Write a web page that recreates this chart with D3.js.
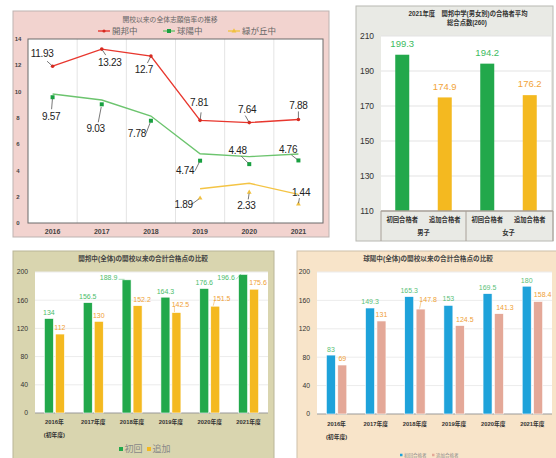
<!DOCTYPE html>
<html><head><meta charset="utf-8">
<script src="https://cdn.jsdelivr.net/npm/d3@7"></script>
<style>body{margin:0;background:#fff}svg{display:block}text{font-family:"Liberation Sans","Noto Sans CJK JP",sans-serif}</style>
</head><body>
<script>
// ---------- DATA ----------
const years = ["2016","2017","2018","2019","2020","2021"];
const kaihoRate = [11.93,13.23,12.7,7.81,7.64,7.88];
const kyuyoRate = [9.57,9.03,7.78,4.74,4.48,4.76];
const kyuyoLine = [9.82,9.36,8.14,5.27,5.05,5.25];
const midoriRate = [null,null,null,1.89,2.33,1.44];
const midoriLine = [null,null,null,2.61,3.02,2.18];
const rateTicks = [0,2,4,6,8,10,12,14];
const rateSeries = ["開邦中","球陽中","緑が丘中"];

const genderCats = ["初回合格者","追加合格者","初回合格者","追加合格者"];
const genderGroups = ["男子","女子"];
const genderScores = [199.3,174.9,194.2,176.2];
const genderTicks = [110,130,150,170,190,210];

const fiscalYears = ["2016年","2017年度","2018年度","2019年度","2020年度","2021年度"];
const kaihoFirst = [134,156.5,188.9,164.3,176.6,196.6];
const kaihoExtra = [112,130,152.2,142.5,151.5,175.6];
const kyuyoFirst = [83,149.3,165.3,153,169.5,180];
const kyuyoExtra = [69,131,147.8,124.5,141.3,158.4];
const scoreTicks = [0,40,80,120,160,200];

// ---------- LAYOUT (label offsets) ----------
const redLab = [[-10.5,-13,-5.5,-5],[8,13,4,6],[-7,13,-3.5,7],[-1,-18,1,-8],[-2,-13.5,-4,-7],[0,-14,0,-8]];
const greenLab = [[-1.5,19,-1,12],[-6,24.4,-3.5,18],[-14,13,-5,13],[-15,10,-5,10],[-11.7,-13.4,-8,-8],[-10.4,-10.7,-7,-5.5]];
const yellowLab = [null,null,null,[-16.4,6.5,-9,6.5],[-2.8,13,-1,7],[2.6,-11.4,1,-6]];

const svg = d3.select("body").append("svg").attr("width",556).attr("height",458);
svg.append("rect").attr("width",556).attr("height",458).attr("fill","#fff");

// ================= PANEL 1 =================
{
  const g = svg.append("g");
  g.append("rect").attr("x",13).attr("y",11).attr("width",316).attr("height",226)
    .attr("fill","#f2d3cf").attr("stroke","#bdb3b1");
  const x = d3.scaleBand().domain(years).range([28,323]);
  const y = d3.scaleLinear().domain([0,14]).range([223,39]);
  g.append("rect").attr("x",28).attr("y",39).attr("width",295).attr("height",184)
    .attr("fill","#fff");
  g.selectAll(".vg").data(years.slice(1)).enter().append("line")
    .attr("x1",d=>x(d)).attr("x2",d=>x(d)).attr("y1",39).attr("y2",223)
    .attr("stroke","#e4e4e4");
  g.append("rect").attr("x",28).attr("y",39).attr("width",295).attr("height",184)
    .attr("fill","none").attr("stroke","#6a6a6a").attr("stroke-width",1);
  g.selectAll(".yt").data(rateTicks).enter().append("text")
    .attr("x",18).attr("y",d=>y(d)).attr("dy","0.35em").attr("text-anchor","middle")
    .attr("font-size",6).attr("font-weight","bold").attr("fill","#444").text(d=>d);
  g.selectAll(".xt").data(years).enter().append("text")
    .attr("x",d=>x(d)+x.bandwidth()/2).attr("y",232).attr("dy","0.35em").attr("text-anchor","middle")
    .attr("font-size",7).attr("font-weight","bold").attr("fill","#444").text(d=>d);
  g.append("text").attr("x",170).attr("y",20).attr("dy","0.35em").attr("text-anchor","middle")
    .attr("font-size",6.8).attr("fill","#666").text("開校以来の全体志願倍率の推移");
  const cx = i => x(years[i])+x.bandwidth()/2;
  const line = d3.line().defined(d=>d!=null).x((d,i)=>cx(i)).y(d=>y(d));
  const cols = {red:"#e8372e", green:"#6cc46e", yellow:"#f4c444"};
  g.append("path").attr("d",line(kaihoRate)).attr("fill","none").attr("stroke",cols.red).attr("stroke-width",1.4);
  g.append("path").attr("d",line(kyuyoLine)).attr("fill","none").attr("stroke",cols.green).attr("stroke-width",1.4);
  g.append("path").attr("d",line(midoriLine)).attr("fill","none").attr("stroke",cols.yellow).attr("stroke-width",1.4);
  // markers
  kaihoRate.forEach((v,i)=>g.append("circle").attr("cx",cx(i)).attr("cy",y(v)).attr("r",1.8).attr("fill","#d62a20"));
  kyuyoRate.forEach((v,i)=>g.append("rect").attr("x",cx(i)-2).attr("y",y(v)-2).attr("width",4).attr("height",4).attr("fill","#18a040"));
  midoriRate.forEach((v,i)=>{ if(v==null) return;
    g.append("path").attr("d",d3.symbol(d3.symbolTriangle,10)()).attr("transform",`translate(${cx(i)},${y(v)})`).attr("fill","#f0c040");});
  // labels
  function labels(vals, offs){
    vals.forEach((v,i)=>{ if(v==null||!offs[i]) return;
      const [dx,dy,lx,ly]=offs[i]; const px=cx(i), py=y(v);
      g.append("line").attr("x1",px+lx*0.15).attr("y1",py+ly*0.15).attr("x2",px+lx).attr("y2",py+ly)
        .attr("stroke","#555").attr("stroke-width",0.8);
      g.append("text").attr("x",px+dx).attr("y",py+dy).attr("dy","0.35em").attr("text-anchor","middle")
        .attr("font-size",10).attr("fill","#222").attr("letter-spacing",-0.3).text(v);
    });
  }
  labels(kaihoRate, redLab); labels(kyuyoRate, greenLab); labels(midoriRate, yellowLab);
  // legend
  const leg = [[98,cols.red,"c"],[163,cols.green,"s"],[228,cols.yellow,"t"]];
  leg.forEach((l,i)=>{
    g.append("line").attr("x1",l[0]).attr("x2",l[0]+12).attr("y1",31).attr("y2",31).attr("stroke",l[1]).attr("stroke-width",1.4);
    if(l[2]=="c") g.append("circle").attr("cx",l[0]+6).attr("cy",31).attr("r",1.6).attr("fill","#d62a20");
    if(l[2]=="s") g.append("rect").attr("x",l[0]+4).attr("y",29).attr("width",4).attr("height",4).attr("fill","#18a040");
    if(l[2]=="t") g.append("path").attr("d",d3.symbol(d3.symbolTriangle,10)()).attr("transform",`translate(${l[0]+6},31)`).attr("fill","#f0c040");
    g.append("text").attr("x",l[0]+14).attr("y",31).attr("dy","0.35em").attr("font-size",8.5).attr("fill","#666").text(rateSeries[i]);
  });
}

// ================= PANEL 2 =================
{
  const g = svg.append("g");
  g.append("rect").attr("x",356).attr("y",6).attr("width",197).attr("height",235)
    .attr("fill","#e9eae5").attr("stroke","#b8b8b2");
  const x = d3.scaleBand().domain(d3.range(4)).range([381,551]);
  const y = d3.scaleLinear().domain([110,210]).range([211,36]);
  g.append("rect").attr("x",381).attr("y",36).attr("width",170).attr("height",175).attr("fill","#fff");
  g.selectAll(".gl").data(genderTicks).enter().append("line")
    .attr("x1",381).attr("x2",551).attr("y1",d=>y(d)).attr("y2",d=>y(d)).attr("stroke","#e3e3e3");
  g.selectAll(".yt").data(genderTicks).enter().append("text")
    .attr("x",367).attr("y",d=>y(d)).attr("dy","0.35em").attr("text-anchor","middle")
    .attr("font-size",8.5).attr("fill","#333").text(d=>d);
  g.append("text").attr("x",468).attr("y",14).attr("dy","0.35em").attr("text-anchor","middle")
    .attr("font-size",6.3).attr("font-weight","bold").attr("fill","#333").text("2021年度　開邦中学(男女別)の合格者平均");
  g.append("text").attr("x",467).attr("y",23).attr("dy","0.35em").attr("text-anchor","middle")
    .attr("font-size",6.3).attr("font-weight","bold").attr("fill","#333").text("総合点数(260)");
  const barC = ["#22a84b","#f4b920"], labC = ["#3dbb5e","#f2a43a"];
  genderScores.forEach((v,i)=>{
    const c = x(i)+x.bandwidth()/2;
    g.append("rect").attr("x",c-7).attr("y",y(v)).attr("width",14).attr("height",y(110)-y(v)).attr("fill",barC[i%2]);
    g.append("text").attr("x",c).attr("y",y(v)-11).attr("dy","0.35em").attr("text-anchor","middle")
      .attr("font-size",9.5).attr("fill",labC[i%2]).text(v);
    g.append("text").attr("x",c).attr("y",219.5).attr("dy","0.35em").attr("text-anchor","middle")
      .attr("font-size",6.3).attr("font-weight","bold").attr("fill","#333").text(genderCats[i]);
  });
  genderGroups.forEach((t,j)=>{
    const c = (x(j*2)+x(j*2+1)+x.bandwidth())/2;
    g.append("text").attr("x",c).attr("y",233).attr("dy","0.35em").attr("text-anchor","middle")
      .attr("font-size",6.3).attr("font-weight","bold").attr("fill","#333").text(t);
  });
  g.append("line").attr("x1",381).attr("x2",553).attr("y1",211).attr("y2",211).attr("stroke","#a8a098").attr("stroke-width",1.3);
  [381,466,553].forEach(xx=>g.append("line").attr("x1",xx).attr("x2",xx).attr("y1",211).attr("y2",241).attr("stroke","#a8a098"));
}

// ================= PANELS 3 & 4 =================
function scorePanel(o){
  const g = svg.append("g");
  g.append("rect").attr("x",o.bx).attr("y",251).attr("width",o.bw).attr("height",220)
    .attr("fill",o.bg).attr("stroke",o.border);
  const x = d3.scaleBand().domain(fiscalYears).range([o.px0,o.px1]);
  const y = d3.scaleLinear().domain([0,200]).range([o.py1,272]);
  g.append("rect").attr("x",o.px0).attr("y",272).attr("width",o.px1-o.px0).attr("height",o.py1-272).attr("fill","#fff");
  g.selectAll(".gl").data(scoreTicks.slice(1)).enter().append("line")
    .attr("x1",o.px0).attr("x2",o.px1).attr("y1",d=>y(d)).attr("y2",d=>y(d)).attr("stroke","#ececec");
  g.append("line").attr("x1",o.px0).attr("x2",o.px1).attr("y1",o.py1).attr("y2",o.py1).attr("stroke","#9a9a9a").attr("stroke-width",1.2);
  g.selectAll(".yt").data(scoreTicks).enter().append("text")
    .attr("x",o.px0-7).attr("y",d=>y(d)).attr("dy","0.35em").attr("text-anchor","end")
    .attr("font-size",6.8).attr("fill","#333").text(d=>d);
  g.append("text").attr("x",o.tx).attr("y",259).attr("dy","0.35em").attr("text-anchor","middle")
    .attr("font-size",6.6).attr("font-weight","bold").attr("fill","#444").text(o.title);
  fiscalYears.forEach((fy,i)=>{
    const c = x(fy)+x.bandwidth()/2;
    [[o.first,o.c1,-o.off],[o.extra,o.c2,o.off]].forEach((s,k)=>{
      const v = s[0][i], bc = c+s[2];
      g.append("rect").attr("x",bc-4.5).attr("y",y(v)).attr("width",9).attr("height",o.py1-y(v))
        .attr("fill",s[1]).attr("stroke","#fff").attr("stroke-width",0.6);
      const lo = o.labs[k][i];
      const lx = bc+lo[0], ly = y(v)+lo[1];
      if(lo[2]) g.append("line").attr("x1",lx+lo[2]).attr("y1",ly+1.5).attr("x2",bc+lo[3]).attr("y2",y(v)-0.5)
        .attr("stroke",k==0?o.l1:o.l2).attr("stroke-width",0.5);
      g.append("text").attr("x",lx).attr("y",ly).attr("dy","0.35em").attr("text-anchor","middle")
        .attr("font-size",7).attr("fill",k==0?o.l1:o.l2).text(v);
    });
    const parts = fy==="2016年" ? ["2016年","(初年度)"] : [fy];
    parts.forEach((t,j)=>g.append("text").attr("x",c).attr("y",o.xly+j*13).attr("dy","0.35em").attr("text-anchor","middle")
      .attr("font-size",5.8).attr("font-weight","bold").attr("fill","#333").text(t));
  });
  // legend
  o.legend.forEach(l=>{
    g.append("rect").attr("x",l[0]).attr("y",o.ly-l[3]/2).attr("width",l[3]).attr("height",l[3]).attr("fill",l[1]);
    g.append("text").attr("x",l[0]+l[3]+1.5).attr("y",o.ly).attr("dy","0.35em").attr("font-size",l[4]).attr("fill","#888").text(l[2]);
  });
}

scorePanel({bx:13,bw:261,bg:"#d9d5af",border:"#b9b598",px0:35,px1:268,py1:413,tx:143,
  title:"開邦中(全体)の開校以来の合計合格点の比較",first:kaihoFirst,extra:kaihoExtra,
  c1:"#22a84b",c2:"#f4b920",l1:"#4cbd6a",l2:"#f0a035",off:5.5,xly:422,ly:449,
  labs:[[[0,-6],[0,-6],[-18,-2,10,-2],[0,-6],[0,-6],[-17,3.5,10,-2]],
        [[0,-6],[0,-6],[4.5,-6],[4,-8,-6,-2],[6.5,-8,-7,-2],[4,-7]]],
  legend:[[119,"#22a84b","初回",4,9],[147,"#f4b920","追加",4,9]]});

scorePanel({bx:297,bw:262,bg:"#f8e4c9",border:"#cdbfa9",px0:317,px1:552,py1:414,tx:428,
  title:"球陽中(全体)の開校以来の合計合格点の比較",first:kyuyoFirst,extra:kyuyoExtra,
  c1:"#1ea2da",c2:"#e4a898",l1:"#5cbf79",l2:"#f0a035",off:5.7,xly:424,ly:455,
  labs:[[[0,-6],[0,-6],[0,-6],[0,-6.5],[0,-6.5],[0,-6]],
        [[0,-6],[0,-6],[7.5,-9.5,-7,-1],[5,-6.5],[6,-6.5],[4.5,-7]]],
  legend:[[400,"#1ea2da","初回合格者",2.5,4.5],[432,"#e4a898","追加合格者",2.5,4.5]]});
</script>
</body></html>
